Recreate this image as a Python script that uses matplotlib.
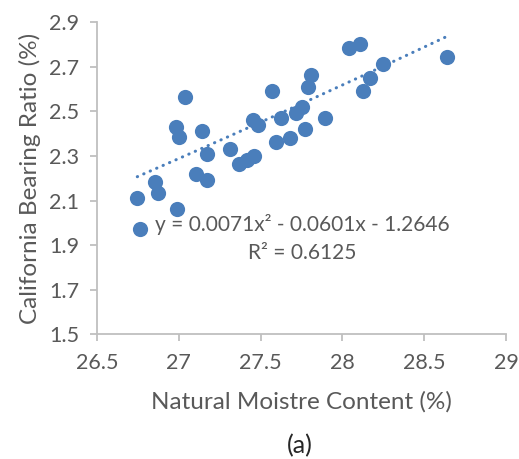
import numpy as np
import matplotlib.pyplot as plt

# natural moisture content (%) vs CBR (%)
moisture = [26.746, 26.763, 26.855, 26.875, 27.036, 26.983, 27.001, 26.991,
            27.144, 27.170, 27.103, 27.170, 27.313, 27.370, 27.415, 27.460,
            27.454, 27.486, 27.572, 27.592, 27.623, 27.680, 27.715, 27.751,
            27.770, 27.792, 27.810, 27.894, 28.038, 28.109, 28.128, 28.169,
            28.250, 28.638]
cbr = [2.113, 1.971, 2.182, 2.132, 2.564, 2.432, 2.384, 2.062,
       2.412, 2.309, 2.220, 2.192, 2.330, 2.264, 2.282, 2.301,
       2.462, 2.439, 2.592, 2.362, 2.472, 2.382, 2.492, 2.522,
       2.423, 2.611, 2.664, 2.472, 2.784, 2.803, 2.592, 2.652,
       2.713, 2.744]

# quadratic trendline coefficients (a, b, c) and R^2
coef = [0.0071, -0.0601, -1.2646]
r2 = 0.6125

xticks = [26.5, 27, 27.5, 28, 28.5, 29]
yticks = [1.5, 1.7, 1.9, 2.1, 2.3, 2.5, 2.7, 2.9]

blue = '#4A7EBB'
grey_text = '#595959'
axis_col = '#BFBFBF'

plt.rcParams['font.family'] = ['Lato', 'DejaVu Sans']

fig = plt.figure(figsize=(5.19, 4.59), dpi=100)
ax = fig.add_axes([0.187, 0.2723, 0.788, 0.6787])

ax.scatter(moisture, cbr, s=120, color=blue, zorder=3, linewidths=0)

xs = np.linspace(min(moisture), max(moisture), 200)
ys = np.polyval(coef, xs)
ax.plot(xs, ys, color=blue, lw=2.2, linestyle=(0, (0.1, 2.2)),
        dash_capstyle='round', zorder=2)

ax.set_xlim(26.5, 29)
ax.set_ylim(1.5, 2.9)
ax.set_xticks(xticks)
ax.set_xticklabels(['26.5', '27', '27.5', '28', '28.5', '29'])
ax.set_yticks(yticks)
ax.set_yticklabels([f'{v:.1f}' for v in yticks])

for s in ['top', 'right']:
    ax.spines[s].set_visible(False)
for s in ['left', 'bottom']:
    ax.spines[s].set_color(axis_col)
    ax.spines[s].set_linewidth(1.3)
ax.tick_params(axis='both', colors=axis_col, labelcolor=grey_text,
               labelsize=15.5, length=5, width=1.3)
ax.tick_params(axis='x', pad=9)
ax.tick_params(axis='y', pad=8)

ax.text(27.753, 1.99, 'y = 0.0071x² - 0.0601x - 1.2646', ha='center',
        va='center', fontsize=15, color=grey_text)
ax.text(27.753, 1.864, f'R² = {r2}', ha='center', va='center',
        fontsize=15, color=grey_text)

ax.set_xlabel('Natural Moistre Content (%)', fontsize=17.5, color=grey_text,
              labelpad=13)
ax.set_ylabel('California Bearing Ratio (%)', fontsize=17.5, color=grey_text,
              labelpad=6)
fig.text(0.578, 0.03, '(a)', ha='center', va='center', fontsize=18,
         color='#262626')

fig.savefig('out.png', dpi=100)
